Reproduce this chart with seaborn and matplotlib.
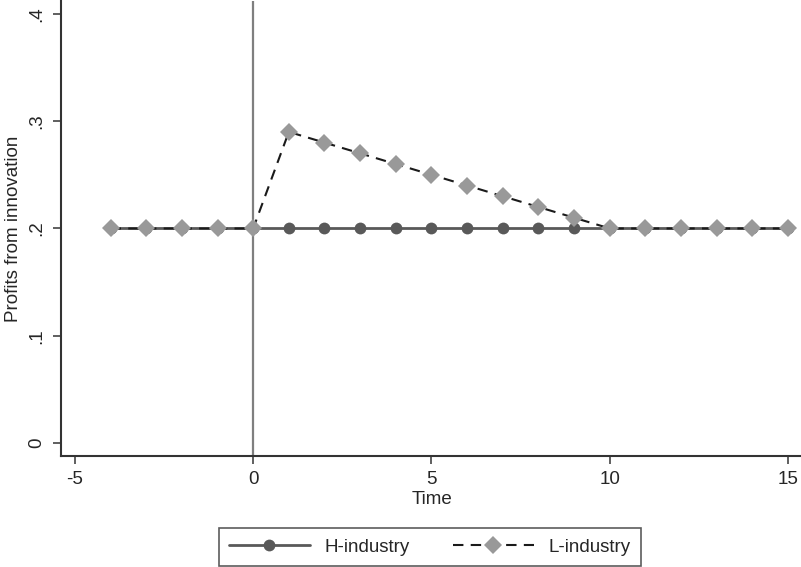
import numpy as np
import pandas as pd
import matplotlib
matplotlib.use("Agg")
import matplotlib.pyplot as plt
import seaborn as sns

# Profit paths by period
time = [-4, -3, -2, -1, 0, 1, 2, 3, 4, 5, 6, 7, 8, 9, 10, 11, 12, 13, 14, 15]
h_industry = [0.20] * 20
l_industry = [0.20, 0.20, 0.20, 0.20, 0.20, 0.29, 0.28, 0.27, 0.26, 0.25,
              0.24, 0.23, 0.22, 0.21, 0.20, 0.20, 0.20, 0.20, 0.20, 0.20]
x_ticks = [-5, 0, 5, 10, 15]
y_ticks = [0, 0.1, 0.2, 0.3, 0.4]
y_tick_labels = ["0", ".1", ".2", ".3", ".4"]

sns.set_style("white")
plt.rcParams["font.family"] = ["Liberation Sans", "DejaVu Sans"]
plt.rcParams["axes.unicode_minus"] = False

df = pd.DataFrame({"Time": time, "H": h_industry, "L": l_industry})

fig = plt.figure(figsize=(8.01, 5.67), dpi=100)
ax = fig.add_axes([61 / 801, 111 / 567, 742 / 801, 455 / 567])

ax.axvline(0, color="#7f7f7f", lw=1.6, zorder=1)

sns.lineplot(data=df, x="Time", y="H", ax=ax, color="#595959", lw=2.0,
             marker="o", markersize=8.5, markeredgewidth=0,
             markerfacecolor="#595959", label="H-industry", zorder=2)
sns.lineplot(data=df, x="Time", y="L", ax=ax, color="#1a1a1a", lw=1.5,
             linestyle=(0, (5, 3.5)), marker="D", markersize=8.8,
             markeredgewidth=0, markerfacecolor="#999999",
             label="L-industry", zorder=3)

ax.set_xlim(-5.39, 15.42)
ax.set_ylim(-0.0121, 0.412)
ax.set_xticks(x_ticks)
ax.set_yticks(y_ticks)
ax.set_yticklabels(y_tick_labels, rotation=90, va="center")
ax.tick_params(axis="both", which="major", length=6, width=1.2,
               color="#444444", labelsize=13.5, left=True, bottom=True, pad=5)
ax.set_xlabel("Time", fontsize=13.5, labelpad=2)
ax.set_ylabel("Profits from innovation", fontsize=13.5, labelpad=5)

for side in ["top", "right"]:
    ax.spines[side].set_visible(False)
for side in ["left", "bottom"]:
    ax.spines[side].set_color("#333333")
    ax.spines[side].set_linewidth(1.5)

ax.legend_.remove()
handles, labels = ax.get_legend_handles_labels()
leg = fig.legend(handles, labels, ncol=2, loc="center",
                 bbox_to_anchor=(430 / 801, 1 - 547 / 567),
                 frameon=True, fancybox=False, fontsize=13.5,
                 handlelength=4.3, columnspacing=2.3, borderpad=0.55,
                 handletextpad=0.8)
leg.get_frame().set_edgecolor("#333333")
leg.get_frame().set_linewidth(1.2)

fig.savefig("out.png", dpi=100)
